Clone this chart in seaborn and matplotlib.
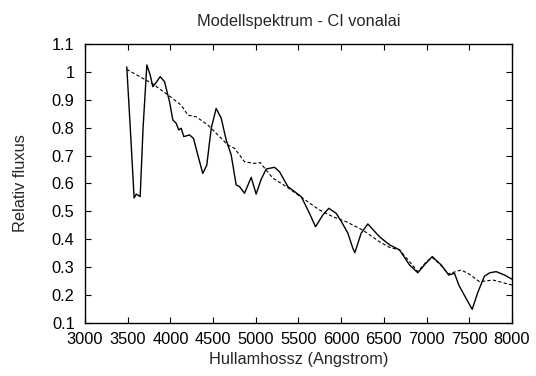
import matplotlib
matplotlib.use("Agg")
import matplotlib.pyplot as plt
import seaborn as sns
import pandas as pd
from matplotlib.ticker import MultipleLocator, FuncFormatter

# Model spectrum (solid)
model_wl = [3489, 3530, 3575, 3600, 3620, 3646, 3680, 3724, 3763, 3794, 3840, 3880, 3931, 3990,
            4028, 4067, 4098, 4126, 4157, 4223, 4270, 4321, 4379, 4426, 4478, 4536, 4595, 4653,
            4712, 4770, 4809, 4868, 4946, 5004, 5063, 5122, 5219, 5278, 5375, 5453, 5532, 5629,
            5699, 5785, 5855, 5941, 6000, 6078, 6136, 6160, 6234, 6312, 6410, 6449, 6566, 6683,
            6800, 6897, 6980, 7066, 7171, 7260, 7327, 7377, 7450, 7534, 7600, 7678, 7740, 7815,
            7912, 8000]
model_flux = [1.018, 0.80, 0.548, 0.562, 0.558, 0.553, 0.80, 1.025, 0.989, 0.947, 0.965, 0.983,
              0.965, 0.893, 0.828, 0.816, 0.792, 0.798, 0.768, 0.774, 0.762, 0.702, 0.636, 0.666,
              0.798, 0.869, 0.834, 0.756, 0.702, 0.595, 0.589, 0.565, 0.622, 0.562, 0.615, 0.652,
              0.658, 0.642, 0.589, 0.571, 0.553, 0.493, 0.445, 0.487, 0.511, 0.493, 0.465, 0.422,
              0.368, 0.352, 0.422, 0.455, 0.422, 0.409, 0.38, 0.362, 0.308, 0.28, 0.31, 0.338,
              0.308, 0.272, 0.278, 0.236, 0.195, 0.149, 0.21, 0.268, 0.28, 0.284, 0.272, 0.257]

# Continuum (dashed)
cont_wl = [3489, 3794, 3990, 4126, 4205, 4302, 4438, 4575, 4673, 4751, 4868, 4985, 5051, 5122,
           5200, 5356, 5551, 5746, 5902, 6059, 6253, 6449, 6566, 6683, 6800, 6897, 7000, 7066,
           7171, 7250, 7330, 7405, 7500, 7620, 7776, 8000]
cont_flux = [1.009, 0.957, 0.913, 0.881, 0.845, 0.839, 0.81, 0.768, 0.738, 0.726, 0.678, 0.672,
             0.675, 0.648, 0.619, 0.589, 0.547, 0.505, 0.481, 0.463, 0.433, 0.391, 0.371, 0.362,
             0.32, 0.284, 0.32, 0.335, 0.306, 0.276, 0.283, 0.29, 0.275, 0.248, 0.254, 0.236]

sns.set_theme(style="ticks")
plt.rcParams['font.family'] = ['Liberation Sans', 'DejaVu Sans']

FS = 11.8
fig = plt.figure(figsize=(5.36, 3.76), dpi=100)
ax = fig.add_axes([0.1586, 0.141, 0.7966, 0.742])

df_m = pd.DataFrame({"wl": model_wl, "flux": model_flux})
df_c = pd.DataFrame({"wl": cont_wl, "flux": cont_flux})
sns.lineplot(data=df_m, x="wl", y="flux", ax=ax, color="black", lw=1.0, sort=False)
sns.lineplot(data=df_c, x="wl", y="flux", ax=ax, color="black", lw=0.8, sort=False,
             linestyle=(0, (3, 2)))

ax.set_xlim(3000, 8000)
ax.set_ylim(0.1, 1.1)
ax.xaxis.set_major_locator(MultipleLocator(500))
ax.yaxis.set_major_locator(MultipleLocator(0.1))
ax.yaxis.set_major_formatter(FuncFormatter(lambda v, p: f"{round(v, 1):g}"))
ax.tick_params(direction="in", length=4, width=0.8, top=True, right=True,
               labelsize=FS, colors="black")
ax.tick_params(axis="x", pad=6.5)
ax.tick_params(axis="y", pad=7.5)
for s in ax.spines.values():
    s.set_linewidth(1.0)
    s.set_color("black")

ax.set_xlabel("Hullamhossz (Angstrom)", fontsize=FS, labelpad=3.5)
ax.set_ylabel("Relativ fluxus", fontsize=FS, labelpad=17)
ax.set_title("Modellspektrum - CI vonalai", fontsize=FS, pad=13)

fig.savefig("out.png", dpi=100, facecolor="white")
